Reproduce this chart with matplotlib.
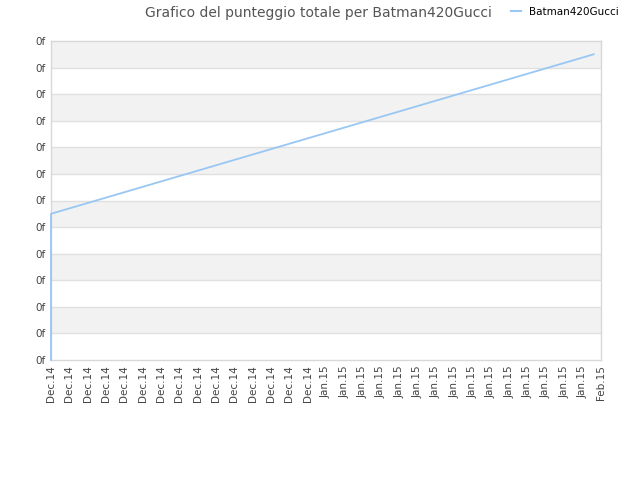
import matplotlib
matplotlib.use("Agg")
import matplotlib.pyplot as plt
from matplotlib.lines import Line2D

# tick labels along the x axis (one every slot)
tick_labels = ["Dec.14"] * 15 + ["Jan.15"] * 15 + ["Feb.15"]
y_labels = ["0f"] * 13

# series (x in tick slots, y in grid units)
days = [0, 0, 29.6]
score = [0, 5.5, 11.5]

line_col = "#99c7f3"
grid_col = "#e0e0e0"
band_col = "#f2f2f2"
text_col = "#444444"

fig = plt.figure(figsize=(6.4, 4.8), dpi=100)
ax = fig.add_axes([51 / 640, 120 / 480, 550 / 640, 319 / 480])

n_x = len(tick_labels) - 1
n_y = len(y_labels) - 1
ax.set_xlim(0, n_x)
ax.set_ylim(0, n_y)

# alternating bands, grey at top
for i in range(n_y):
    if (n_y - 1 - i) % 2 == 0:
        ax.axhspan(i, i + 1, color=band_col, zorder=0, lw=0)
for i in range(1, n_y):
    ax.axhline(i, color=grid_col, lw=1, zorder=1)

ax.plot(days, score, color=line_col, lw=1.3, zorder=4, clip_on=False)

ax.set_xticks(range(len(tick_labels)))
ax.set_xticklabels(tick_labels, rotation=90, fontsize=7.5, color=text_col)
ax.set_yticks(range(len(y_labels)))
ax.set_yticklabels(y_labels, fontsize=7.5, color=text_col)
ax.tick_params(length=0, pad=4)
for s in ax.spines.values():
    s.set_color("#d8d8d8")
    s.set_linewidth(1)

fig.text(318 / 640, 1 - 13 / 480, "Grafico del punteggio totale per Batman420Gucci",
         ha="center", va="center", fontsize=10, color="#555555")
fig.legend([Line2D([0], [0], color=line_col, lw=1.5)], ["Batman420Gucci"],
           loc="center", bbox_to_anchor=(565 / 640, 1 - 12 / 480),
           frameon=False, fontsize=7.5, handlelength=1.0, handletextpad=0.8)

fig.savefig("out.png", dpi=100)
